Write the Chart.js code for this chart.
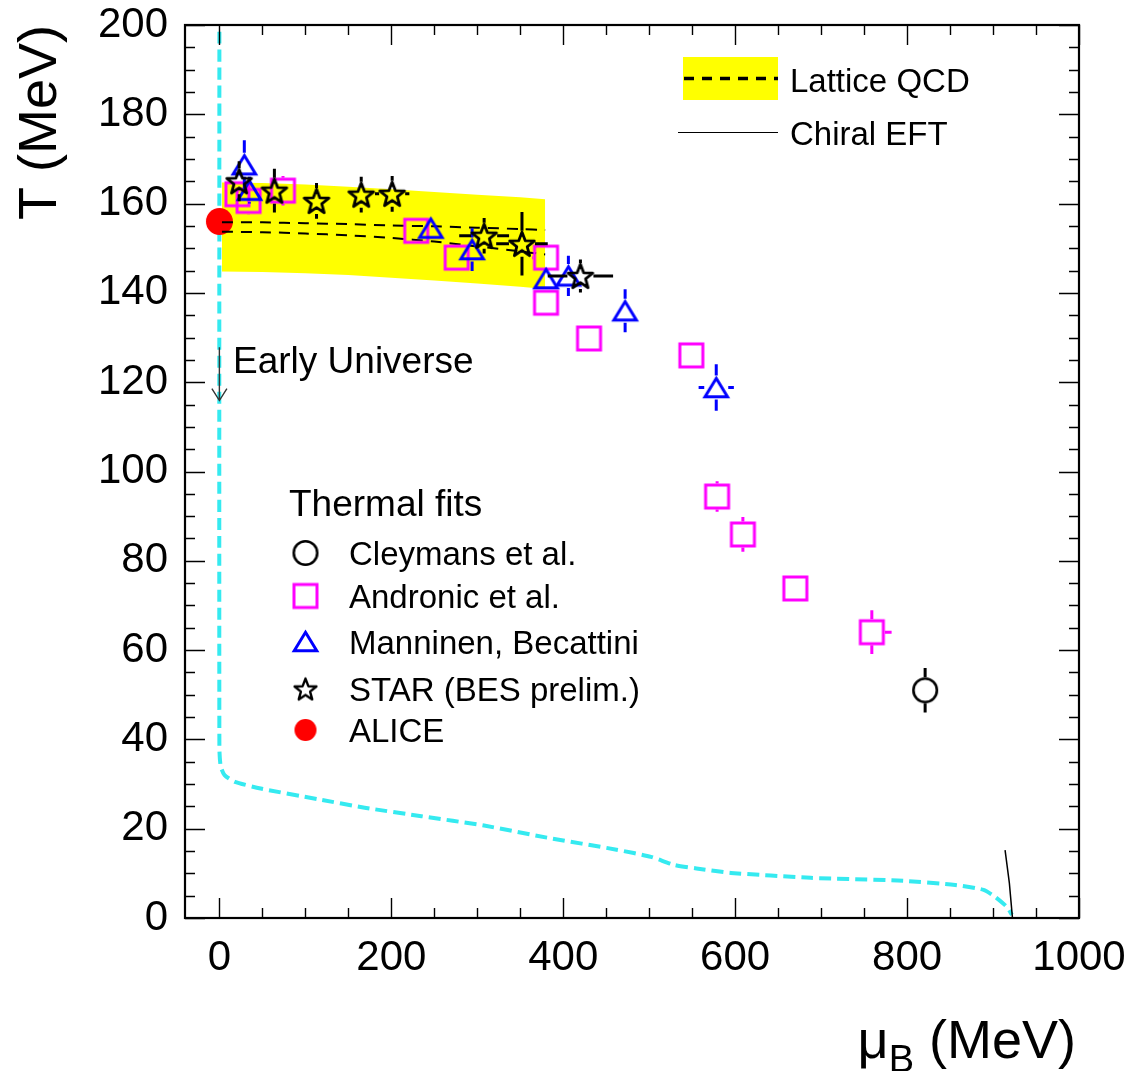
<!DOCTYPE html>
<html>
<head>
<meta charset="utf-8">
<title>Chemical freeze-out: T vs mu_B</title>
<script src="https://cdn.jsdelivr.net/npm/chart.js@4.4.1/dist/chart.umd.min.js"></script>
<style>
  html, body { margin: 0; padding: 0; background: #fff; }
  canvas { display: block; }
</style>
</head>
<body>
<canvas id="myChart" width="1129" height="1071"></canvas>
<script>
// thermal fit points, mu_B and T in MeV
const cleymansMu = [821];
const cleymansT = [51];
const cleymansErrT = [5];

const andronicMu = [21, 34, 74, 229, 276, 380, 380, 430, 549, 579, 609, 670, 759];
const andronicT = [162.1, 160.6, 162.9, 153.9, 147.9, 147.9, 137.8, 129.8, 126, 94.4, 85.9, 73.8, 64];
const andronicErrT = [2, 3, 3.3, 2, 2, 2, 2, 1.5, 1.5, 3.4, 3.9, 2, 4.9];
const andronicErrMuLo = [0, 0, 0, 0, 0, 16, 0, 0, 0, 0, 0, 0, 0];
const andronicErrMuHi = [0, 0, 0, 0, 0, 0, 0, 0, 0, 0, 0, 0, 23];

const manninenMu = [29, 35, 246, 294, 380, 406, 472, 578];
const manninenT = [168.7, 163, 154.5, 149.7, 143.2, 143.8, 136, 118.8];
const manninenErrT = [5.5, 3, 2, 4.8, 2, 4.5, 4.8, 5.2];
const manninenErrMu = [0, 0, 0, 0, 0, 0, 14, 20.5];

const starMu = [23, 64, 113, 165, 201, 308, 352, 420];
const starT = [165, 162.9, 160.6, 162, 162.2, 152.8, 151, 143.8];
const starErrT = [4.5, 4.9, 4, 4, 4, 4, 7.1, 3.7];
const starErrMu = [0, 0, 0, 0, 20, 29, 30, 38];

const aliceMu = [0];
const aliceT = [156];

// lattice QCD crossover: band and two central curves
const latticeMu = [3, 50, 100, 150, 200, 250, 300, 350, 379];
const latticeBandHi = [164.7, 164.6, 164.3, 163.8, 163.2, 162.6, 162, 161.4, 161];
const latticeBandLo = [144.8, 144.7, 144.4, 144, 143.4, 142.8, 142.1, 141.4, 140.9];
const latticeA = [155.8, 155.8, 155.6, 155.4, 155.1, 154.9, 154.6, 154.3, 154.1];
const latticeB = [153.7, 153.6, 153.3, 152.9, 152.3, 151.5, 150.4, 149.3, 148.6];

// early universe / nuclear matter boundary
const boundaryMu = [0, 0, 1.5, 6, 18, 48, 115, 169, 235, 308, 381, 462, 502, 529, 555, 595, 688, 789, 856, 889, 902, 916, 922];
const boundaryT = [198.5, 38, 34, 32, 30.5, 29, 26.6, 24.7, 22.8, 20.7, 18, 15.3, 13.7, 11.9, 11.1, 10.1, 9, 8.4, 7.4, 6.3, 4.8, 2.5, 0.7];

const chiralMu = [914, 919, 922.6];
const chiralT = [15.2, 7.8, 0];

const xTicks = [0, 200, 400, 600, 800, 1000];
const yTicks = [0, 20, 40, 60, 80, 100, 120, 140, 160, 180, 200];

const FONT = "'Liberation Sans', Arial, Helvetica, sans-serif";
const CYAN = '#35eaf0';
const MAGENTA = '#ff00ff';
const BLUE = '#0000ff';

const pts = (xs, ys) => xs.map((v, i) => ({x: v, y: ys[i]}));

// open/filled marker sprites used as point styles
function marker(shape, color, size, lw) {
  const pad = Math.ceil(lw) + 3;
  const c = document.createElement('canvas');
  c.width = c.height = Math.ceil(size) + pad * 2;
  const g = c.getContext('2d');
  const m = c.width / 2, h = size / 2;
  g.strokeStyle = color;
  g.fillStyle = color;
  g.lineWidth = lw;
  g.beginPath();
  if (shape === 'square') {
    g.rect(m - h, m - h, size, size);
  } else if (shape === 'triangle') {
    g.lineJoin = 'miter';
    g.moveTo(m, m - h * 0.82);
    g.lineTo(m + h, m + h * 0.82);
    g.lineTo(m - h, m + h * 0.82);
    g.closePath();
  } else if (shape === 'star') {
    g.lineJoin = 'round';
    const R = h, r = h * 0.42, dy = (R - R * Math.cos(Math.PI / 5)) / 2;
    for (let i = 0; i < 10; i++) {
      const a = -Math.PI / 2 + i * Math.PI / 5;
      const rr = i % 2 ? r : R;
      const px = m + rr * Math.cos(a), py = m + dy + rr * Math.sin(a);
      if (i === 0) g.moveTo(px, py); else g.lineTo(px, py);
    }
    g.closePath();
  } else {
    g.arc(m, m, h, 0, Math.PI * 2);
  }
  if (shape === 'dot') g.fill(); else g.stroke();
  return c;
}

const mSquare = marker('square', MAGENTA, 23, 3);
const mTriangle = marker('triangle', BLUE, 22.5, 3);
const mStar = marker('star', '#000', 26, 2.8);
const mCircle = marker('circle', '#000', 23.5, 2.6);
const mDot = marker('dot', '#ff0000', 27, 0);
const mDotSmall = marker('dot', '#ff0000', 22, 0);
const mStarSmall = marker('star', '#000', 23, 2.4);

// error bars start at the marker edge, like the usual ROOT style
const errorBars = {
  id: 'errorBars',
  afterDatasetDraw(chart, args) {
    const ds = chart.data.datasets[args.index];
    if (!ds.errT) return;
    const {ctx, scales: {x, y}} = chart;
    const g = ds.gap;
    ctx.save();
    ctx.strokeStyle = ds.errColor;
    ctx.lineWidth = 3;
    ctx.beginPath();
    ds.data.forEach((p, i) => {
      const px = x.getPixelForValue(p.x), py = y.getPixelForValue(p.y);
      const top = y.getPixelForValue(p.y + ds.errT[i]);
      const bot = y.getPixelForValue(p.y - ds.errT[i]);
      if (py - top > g) { ctx.moveTo(px, py - g); ctx.lineTo(px, top); }
      if (bot - py > g) { ctx.moveTo(px, py + g); ctx.lineTo(px, bot); }
      const lo = ds.errMuLo ? ds.errMuLo[i] : 0;
      const hi = ds.errMuHi ? ds.errMuHi[i] : 0;
      const left = x.getPixelForValue(p.x - lo), right = x.getPixelForValue(p.x + hi);
      if (px - left > g) { ctx.moveTo(px - g, py); ctx.lineTo(left, py); }
      if (right - px > g) { ctx.moveTo(px + g, py); ctx.lineTo(right, py); }
    });
    ctx.stroke();
    ctx.restore();
  }
};

// frame, inward ticks, legends, annotations and axis titles
const decorations = {
  id: 'decorations',
  afterDraw(chart) {
    const {ctx, chartArea: a, scales: {x, y}} = chart;
    ctx.save();
    ctx.strokeStyle = '#000';
    ctx.lineWidth = 1.4;
    ctx.beginPath();
    for (let v = 0; v <= 200; v += 5) {
      const p = Math.round(y.getPixelForValue(v)) + 0.5;
      const len = v % 20 === 0 ? 20 : 10;
      ctx.moveTo(a.left, p); ctx.lineTo(a.left + len, p);
      ctx.moveTo(a.right, p); ctx.lineTo(a.right - len, p);
    }
    for (let v = 0; v <= 1000; v += 50) {
      const p = Math.round(x.getPixelForValue(v)) + 0.5;
      const len = v % 200 === 0 ? 20 : 10;
      ctx.moveTo(p, a.bottom); ctx.lineTo(p, a.bottom - len);
      ctx.moveTo(p, a.top); ctx.lineTo(p, a.top + len);
    }
    ctx.stroke();
    ctx.lineWidth = 2.2;
    ctx.strokeRect(a.left, a.top, a.right - a.left, a.bottom - a.top);

    // "Early Universe" arrow along mu_B = 0
    const ax = x.getPixelForValue(0);
    const ay1 = y.getPixelForValue(127.8), ay2 = y.getPixelForValue(115.9);
    ctx.strokeStyle = '#333';
    ctx.lineWidth = 1.4;
    ctx.beginPath();
    ctx.moveTo(ax, ay1); ctx.lineTo(ax, ay2);
    ctx.moveTo(ax - 7.5, ay2 - 12); ctx.lineTo(ax, ay2); ctx.lineTo(ax + 7.5, ay2 - 12);
    ctx.stroke();
    ctx.fillStyle = '#000';
    ctx.textAlign = 'left';
    ctx.textBaseline = 'alphabetic';
    ctx.font = '37px ' + FONT;
    ctx.fillText('Early Universe', 233, 373);

    // top right legend
    ctx.fillStyle = '#ffff00';
    ctx.fillRect(683, 57, 95, 43);
    ctx.strokeStyle = '#000';
    ctx.lineWidth = 3.5;
    ctx.setLineDash([10, 8]);
    ctx.beginPath(); ctx.moveTo(684, 78.5); ctx.lineTo(778, 78.5); ctx.stroke();
    ctx.setLineDash([]);
    ctx.lineWidth = 1.2;
    ctx.beginPath(); ctx.moveTo(678, 132.5); ctx.lineTo(778, 132.5); ctx.stroke();
    ctx.fillStyle = '#000';
    ctx.font = '33px ' + FONT;
    ctx.fillText('Lattice QCD', 790, 92);
    ctx.fillText('Chiral EFT', 790, 145);

    // thermal fits legend
    ctx.font = '37px ' + FONT;
    ctx.fillText('Thermal fits', 289, 516);
    const rows = [
      [mCircle, 'Cleymans et al.', 553],
      [mSquare, 'Andronic et al.', 596],
      [mTriangle, 'Manninen, Becattini', 641.5],
      [mStarSmall, 'STAR (BES prelim.)', 689],
      [mDotSmall, 'ALICE', 730]
    ];
    ctx.font = '33px ' + FONT;
    rows.forEach(([img, label, cy]) => {
      ctx.drawImage(img, 305.5 - img.width / 2, cy - img.height / 2);
      ctx.fillText(label, 349, cy + 12);
    });

    // axis titles
    ctx.font = '54px ' + FONT;
    ctx.save();
    ctx.translate(56, 25);
    ctx.rotate(-Math.PI / 2);
    ctx.textAlign = 'right';
    ctx.fillText('T (MeV)', 0, 0);
    ctx.restore();
    ctx.textAlign = 'left';
    const tail = ' (MeV)';
    ctx.font = '54px ' + FONT;
    const wMu = ctx.measureText('\u03bc').width;
    const wTail = ctx.measureText(tail).width;
    ctx.font = '38px ' + FONT;
    const wB = ctx.measureText('B').width;
    let tx = 1076 - wTail - wB - wMu;
    ctx.font = '54px ' + FONT;
    ctx.fillText('\u03bc', tx, 1058);
    ctx.font = '38px ' + FONT;
    ctx.fillText('B', tx + wMu, 1072);
    ctx.font = '54px ' + FONT;
    ctx.fillText(tail, tx + wMu + wB, 1058);
    ctx.restore();
  }
};

// fixed axis sizes so the frame lands where the layout padding puts it
function fixBox(s, prop, size) {
  s[prop] = size;
  s.paddingTop = s.paddingBottom = s.paddingLeft = s.paddingRight = 0;
}

new Chart(document.getElementById('myChart').getContext('2d'), {
  type: 'scatter',
  data: {
    datasets: [
      {
        type: 'line', data: pts(latticeMu, latticeBandHi),
        borderWidth: 0, borderColor: 'rgba(0,0,0,0)', pointRadius: 0, fill: false, order: 10
      },
      {
        type: 'line', data: pts(latticeMu, latticeBandLo),
        borderWidth: 0, borderColor: 'rgba(0,0,0,0)', pointRadius: 0,
        fill: '-1', backgroundColor: '#ffff00', order: 10
      },
      {
        type: 'line', data: pts(boundaryMu, boundaryT),
        borderColor: CYAN, borderWidth: 4, borderDash: [12, 6], pointRadius: 0,
        fill: false, tension: 0.2, order: 9
      },
      {
        type: 'line', data: pts(chiralMu, chiralT),
        borderColor: '#000', borderWidth: 1.5, pointRadius: 0, fill: false, order: 8
      },
      {
        data: pts(aliceMu, aliceT), pointStyle: mDot, pointRadius: 12, order: 7
      },
      {
        type: 'line', data: pts(latticeMu, latticeA),
        borderColor: '#000', borderWidth: 2, borderDash: [11, 8], pointRadius: 0,
        fill: false, tension: 0.3, order: 6
      },
      {
        type: 'line', data: pts(latticeMu, latticeB),
        borderColor: '#000', borderWidth: 2, borderDash: [11, 8], pointRadius: 0,
        fill: false, tension: 0.3, order: 6
      },
      {
        data: pts(andronicMu, andronicT), pointStyle: mSquare, pointRadius: 12, order: 5,
        errT: andronicErrT, errMuLo: andronicErrMuLo, errMuHi: andronicErrMuHi,
        errColor: MAGENTA, gap: 13
      },
      {
        data: pts(manninenMu, manninenT), pointStyle: mTriangle, pointRadius: 12, order: 4,
        errT: manninenErrT, errMuLo: manninenErrMu, errMuHi: manninenErrMu,
        errColor: BLUE, gap: 12
      },
      {
        data: pts(starMu, starT), pointStyle: mStar, pointRadius: 12, order: 3,
        errT: starErrT, errMuLo: starErrMu, errMuHi: starErrMu,
        errColor: '#000', gap: 13
      },
      {
        data: pts(cleymansMu, cleymansT), pointStyle: mCircle, pointRadius: 12, order: 2,
        errT: cleymansErrT, errColor: '#000', gap: 13
      }
    ]
  },
  options: {
    responsive: false,
    animation: false,
    devicePixelRatio: 1,
    layout: { padding: { top: 25, right: 50, left: 0, bottom: 0 } },
    plugins: {
      legend: { display: false },
      tooltip: { enabled: false }
    },
    scales: {
      x: {
        type: 'linear', position: 'bottom', min: -40, max: 1000,
        grid: { display: false, drawTicks: false },
        border: { display: false },
        afterFit: s => fixBox(s, 'height', 153),
        afterBuildTicks: s => { s.ticks = xTicks.map(v => ({value: v})); },
        ticks: {
          autoSkip: false, maxRotation: 0, padding: 15, color: '#000',
          font: { family: FONT, size: 42 },
          callback: v => String(v)
        }
      },
      y: {
        type: 'linear', min: 0, max: 200,
        grid: { display: false, drawTicks: false },
        border: { display: false },
        afterFit: s => fixBox(s, 'width', 185),
        afterBuildTicks: s => { s.ticks = yTicks.map(v => ({value: v})); },
        ticks: {
          padding: 17, color: '#000',
          font: { family: FONT, size: 42 },
          callback: v => String(v)
        }
      }
    }
  },
  plugins: [errorBars, decorations]
});
</script>
</body>
</html>
